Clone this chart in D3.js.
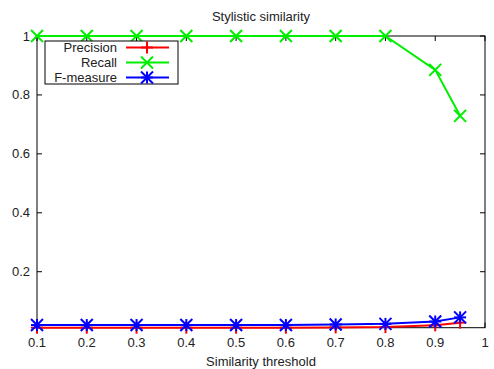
<!DOCTYPE html>
<html>
<head>
<meta charset="utf-8">
<script src="https://cdn.jsdelivr.net/npm/d3@7"></script>
<style>
  body { margin: 0; background: #fff; }
  text { font-family: "Liberation Sans", Arial, sans-serif; fill: #222; }
</style>
</head>
<body>
<div id="chart"></div>
<script>
// chart data
var thresholds = [0.1, 0.2, 0.3, 0.4, 0.5, 0.6, 0.7, 0.8, 0.9, 0.95];
var precision = [0.010, 0.010, 0.010, 0.010, 0.010, 0.010, 0.011, 0.012, 0.018, 0.027];
var recall    = [1, 1, 1, 1, 1, 1, 1, 1, 0.885, 0.729];
var fmeasure  = [0.019, 0.019, 0.019, 0.019, 0.019, 0.019, 0.021, 0.023, 0.031, 0.045];
var xTicks = [0.1, 0.2, 0.3, 0.4, 0.5, 0.6, 0.7, 0.8, 0.9, 1];
var yTicks = [0.2, 0.4, 0.6, 0.8, 1];

var width = 494, height = 369;
var plotLeft = 37, plotRight = 485, plotTop = 36, plotBottom = 327.7;
var fontSize = "13px";

var svg = d3.select("#chart").append("svg")
  .attr("width", width)
  .attr("height", height);

var x = d3.scaleLinear().domain([0.1, 1]).range([plotLeft, plotRight]);
var y = d3.scaleLinear().domain([0.01, 1]).range([plotBottom, plotTop]);

// title and axis label
svg.append("text")
  .attr("x", 261).attr("y", 21)
  .attr("text-anchor", "middle")
  .style("font-size", fontSize)
  .text("Stylistic similarity");

svg.append("text")
  .attr("x", 261).attr("y", 366)
  .attr("text-anchor", "middle")
  .style("font-size", fontSize)
  .text("Similarity threshold");

// ticks (inward, mirrored)
var tickLen = 5;
var ticks = svg.append("g").attr("stroke", "#000").attr("stroke-width", 1);
xTicks.forEach(function(t) {
  ticks.append("line").attr("x1", x(t)).attr("x2", x(t)).attr("y1", plotBottom).attr("y2", plotBottom - tickLen);
  ticks.append("line").attr("x1", x(t)).attr("x2", x(t)).attr("y1", plotTop).attr("y2", plotTop + tickLen);
});
yTicks.forEach(function(t) {
  ticks.append("line").attr("x1", plotLeft).attr("x2", plotLeft + tickLen).attr("y1", y(t)).attr("y2", y(t));
  ticks.append("line").attr("x1", plotRight).attr("x2", plotRight - tickLen).attr("y1", y(t)).attr("y2", y(t));
});

svg.append("g").selectAll("text").data(xTicks).enter().append("text")
  .attr("x", function(d) { return x(d); })
  .attr("y", 347)
  .attr("text-anchor", "middle")
  .style("font-size", fontSize)
  .text(function(d) { return d3.format("")(d); });

svg.append("g").selectAll("text").data(yTicks).enter().append("text")
  .attr("x", 30)
  .attr("y", function(d) { return y(d) + 4.5; })
  .attr("text-anchor", "end")
  .style("font-size", fontSize)
  .text(function(d) { return d3.format("")(d); });

// border
svg.append("rect")
  .attr("x", plotLeft).attr("y", plotTop)
  .attr("width", plotRight - plotLeft).attr("height", plotBottom - plotTop)
  .attr("fill", "none").attr("stroke", "#000").attr("stroke-width", 1);

// point markers
var ms = 6;
function drawMarker(g, type, cx, cy, color) {
  var segs = [];
  if (type === "plus" || type === "star") {
    segs.push([cx - ms, cy, cx + ms, cy], [cx, cy - ms, cx, cy + ms]);
  }
  if (type === "cross" || type === "star") {
    segs.push([cx - ms, cy - ms, cx + ms, cy + ms], [cx - ms, cy + ms, cx + ms, cy - ms]);
  }
  segs.forEach(function(s) {
    g.append("line")
      .attr("x1", s[0]).attr("y1", s[1]).attr("x2", s[2]).attr("y2", s[3])
      .attr("stroke", color).attr("stroke-width", 2);
  });
}

var series = [
  { name: "Precision", values: precision, color: "#ff0000", marker: "plus" },
  { name: "Recall", values: recall, color: "#00ee00", marker: "cross" },
  { name: "F-measure", values: fmeasure, color: "#0000ff", marker: "star" }
];

var line = d3.line()
  .x(function(d) { return x(d[0]); })
  .y(function(d) { return y(d[1]); });

series.forEach(function(s) {
  var pts = thresholds.map(function(t, i) { return [t, s.values[i]]; });
  var g = svg.append("g");
  g.append("path")
    .attr("d", line(pts))
    .attr("fill", "none")
    .attr("stroke", s.color)
    .attr("stroke-width", 2);
  pts.forEach(function(p) { drawMarker(g, s.marker, x(p[0]), y(p[1]), s.color); });
});

// legend
var legend = svg.append("g");
legend.append("rect")
  .attr("x", 45).attr("y", 41)
  .attr("width", 133).attr("height", 43)
  .attr("fill", "#fff").attr("stroke", "#000").attr("stroke-width", 1);
series.forEach(function(s, i) {
  var ly = 47.5 + i * 15;
  legend.append("text")
    .attr("x", 117).attr("y", ly + 4.5)
    .attr("text-anchor", "end")
    .style("font-size", fontSize)
    .text(s.name);
  legend.append("line")
    .attr("x1", 126).attr("x2", 169).attr("y1", ly).attr("y2", ly)
    .attr("stroke", s.color).attr("stroke-width", 2);
  drawMarker(legend, s.marker, 147, ly, s.color);
});
</script>
</body>
</html>
